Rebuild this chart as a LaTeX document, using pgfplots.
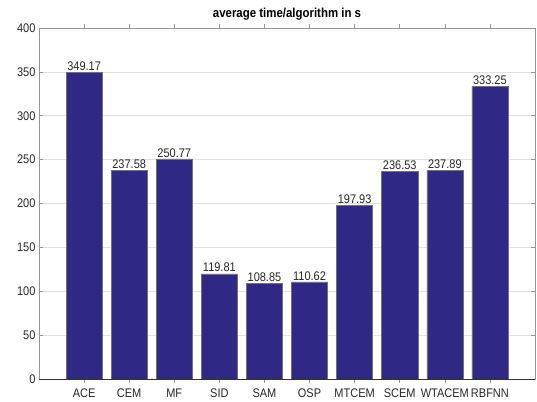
\documentclass[border=0pt]{standalone}
\usepackage{pgfplots}
\pgfplotsset{compat=1.18}
\usepackage{fontspec}
\setmainfont{Liberation Sans}[FakeStretch=0.88]
\definecolor{barblue}{RGB}{47,41,133}
\definecolor{gridgray}{RGB}{225,225,225}
\definecolor{boxgray}{RGB}{150,150,150}
\definecolor{txt}{RGB}{40,40,40}
\begin{document}
\begin{tikzpicture}
\begin{axis}[
  scale only axis,
  width=496pt, height=351pt,
  xmin=0, xmax=11, ymin=0, ymax=400,
  ytick={0,50,...,400},
  xtick={1,...,10},
  xticklabels={ACE,CEM,MF,SID,SAM,OSP,MTCEM,SCEM,WTACEM,RBFNN},
  ymajorgrids, grid style={gridgray, line width=0.6pt},
  axis line style={boxgray, line width=0.8pt},
  tick style={boxgray, line width=0.6pt},
  tick align=inside,
  major tick length=4pt,
  ticklabel style={font=\fontsize{12.5}{14}\selectfont, text=txt},
  /pgf/number format/assume math mode=true,
  xticklabel style={yshift=-2pt},
  title={\textbf{average time/algorithm in s}},
  title style={font=\fontsize{13}{15}\selectfont, yshift=-2pt},
  ybar, bar width=0.8,
  nodes near coords,
  nodes near coords style={font=\fontsize{12.5}{14}\selectfont, text=txt, /pgf/number format/fixed, /pgf/number format/fixed zerofill, /pgf/number format/precision=2, /pgf/number format/assume math mode=true, inner sep=1.5pt},
  clip=false,
]
\addplot[fill=barblue, draw=black!55, line width=0.5pt] coordinates {
 (1,349.17) (2,237.58) (3,250.77) (4,119.81) (5,108.85)
 (6,110.62) (7,197.93) (8,236.53) (9,237.89) (10,333.25)};
\draw[black!80, line width=0.9pt] (axis cs:0,0) -- (axis cs:11,0);
\end{axis}
\path[use as bounding box] ([xshift=-39pt,yshift=-22pt]current axis.south west) rectangle ([xshift=2pt,yshift=28pt]current axis.north east);
\end{tikzpicture}
\end{document}
